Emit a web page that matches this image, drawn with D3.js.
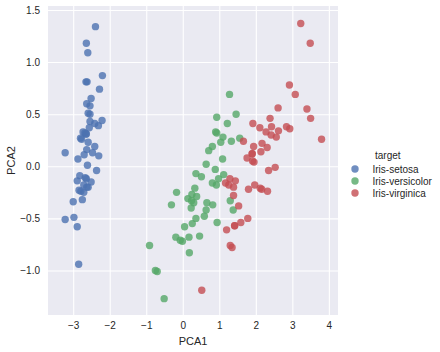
<!DOCTYPE html>
<html>
<head>
<meta charset="utf-8">
<script src="https://cdn.jsdelivr.net/npm/d3@7"></script>
<style>
  body { margin: 0; background: #fff; }
  svg { font-family: Arial, "Liberation Sans", sans-serif; }
</style>
</head>
<body>
<div class="chart"></div>
<script>
// ===== iris PCA scatter, seaborn darkgrid look =====

const species = ['Iris-setosa', 'Iris-versicolor', 'Iris-virginica']
const colors = ['#4C72B0', '#55A868', '#C44E52']

const xTicks = [-3, -2, -1, 0, 1, 2, 3, 4]
const yTicks = [-1.0, -0.5, 0.0, 0.5, 1.0, 1.5]

// [PCA1, PCA2] per flower
const setosa = [
  [-2.68, 0.32], [-2.71, -0.18], [-2.89, -0.14], [-2.75, -0.32], [-2.73, 0.33],
  [-2.28, 0.74], [-2.82, -0.09], [-2.63, 0.16], [-2.89, -0.58], [-2.67, -0.11],
  [-2.51, 0.65], [-2.61, 0.01], [-2.79, -0.24], [-3.22, -0.51], [-2.64, 1.18],
  [-2.39, 1.34], [-2.62, 0.81], [-2.65, 0.31], [-2.20, 0.87], [-2.59, 0.51],
  [-2.31, 0.39], [-2.54, 0.43], [-3.22, 0.13], [-2.30, 0.10], [-2.36, -0.04],
  [-2.51, -0.15], [-2.47, 0.13], [-2.56, 0.37], [-2.64, 0.31], [-2.63, -0.20],
  [-2.59, -0.20], [-2.41, 0.41], [-2.65, 0.81], [-2.60, 1.09], [-2.64, -0.12],
  [-2.87, 0.07], [-2.63, 0.60], [-2.80, 0.27], [-2.98, -0.49], [-2.59, 0.23],
  [-2.77, 0.26], [-2.85, -0.94], [-3.00, -0.34], [-2.41, 0.19], [-2.21, 0.44],
  [-2.71, -0.25], [-2.54, 0.50], [-2.84, -0.23], [-2.54, 0.58], [-2.70, 0.11]
]

const versicolor = [
  [1.28, 0.69], [0.93, 0.32], [1.46, 0.50], [0.18, -0.83], [1.09, 0.07],
  [0.64, -0.42], [1.10, 0.28], [-0.75, -1.00], [1.04, 0.23], [-0.01, -0.72],
  [-0.51, -1.27], [0.51, -0.10], [0.26, -0.55], [0.98, -0.12], [-0.17, -0.25],
  [0.93, 0.47], [0.66, -0.35], [0.24, -0.33], [0.94, -0.54], [0.05, -0.58],
  [1.12, -0.08], [0.36, -0.07], [1.30, -0.33], [0.92, -0.18], [0.71, 0.15],
  [0.90, 0.33], [1.33, 0.24], [1.56, 0.27], [0.81, -0.16], [-0.31, -0.37],
  [-0.07, -0.71], [-0.19, -0.68], [0.14, -0.31], [1.38, -0.42], [0.59, -0.48],
  [0.81, 0.19], [1.22, 0.41], [0.82, -0.37], [0.25, -0.27], [0.17, -0.68],
  [0.46, -0.67], [0.89, -0.03], [0.23, -0.40], [-0.70, -1.01], [0.36, -0.50],
  [0.33, -0.21], [0.38, -0.29], [0.64, 0.02], [-0.91, -0.76], [0.30, -0.35]
]

const virginica = [
  [2.53, -0.01], [1.42, -0.57], [2.62, 0.34], [1.97, -0.18], [2.35, -0.04],
  [3.40, 0.55], [0.52, -1.19], [2.93, 0.36], [2.32, -0.24], [2.92, 0.78],
  [1.66, 0.24], [1.80, -0.22], [2.17, 0.22], [1.35, -0.78], [1.59, -0.54],
  [1.90, 0.12], [1.95, 0.04], [3.49, 1.18], [3.80, 0.26], [1.30, -0.76],
  [2.43, 0.38], [1.20, -0.61], [3.50, 0.46], [1.39, -0.20], [2.28, 0.33],
  [2.61, 0.56], [1.26, -0.18], [1.29, -0.12], [2.12, -0.21], [2.39, 0.46],
  [2.84, 0.38], [3.23, 1.37], [2.16, -0.22], [1.44, -0.14], [1.78, -0.50],
  [3.08, 0.69], [2.14, 0.14], [1.91, 0.05], [1.17, -0.16], [2.11, 0.37],
  [2.31, 0.18], [1.92, 0.41], [1.42, -0.57], [2.56, 0.28], [2.42, 0.30],
  [1.94, 0.19], [1.53, -0.38], [1.76, 0.08], [1.90, 0.12], [1.39, -0.28]
]

const groups = [setosa, versicolor, virginica]

const margin = { top: 6, right: 102, bottom: 37, left: 48 }
const width = 440 - margin.left - margin.right
const height = 352 - margin.top - margin.bottom

const svg = d3.select('.chart')
  .append('svg')
    .attr('width', 440)
    .attr('height', 352)

const container = svg.append('g')
  .attr('transform', `translate(${margin.left}, ${margin.top})`)

container.append('rect')
  .attr('width', width)
  .attr('height', height)
  .style('fill', '#EAEAF2')

const xScale = d3.scaleLinear()
  .domain([-3.69, 4.25])
  .range([0, width])

const yScale = d3.scaleLinear()
  .domain([-1.427, 1.538])
  .range([height, 0])

// gridlines come from the tick lines, labels sit outside
const xAxis = d3.axisBottom(xScale)
  .tickValues(xTicks)
  .tickFormat(d3.format('d'))
  .tickSize(-height)
  .tickPadding(7)

const yAxis = d3.axisLeft(yScale)
  .tickValues(yTicks)
  .tickFormat(d3.format('.1f'))
  .tickSize(-width)
  .tickPadding(8)

const styleAxis = g => {
  g.select('.domain').remove()
  g.selectAll('line').style('stroke', '#fff').style('stroke-width', 1.1)
  g.selectAll('text').style('fill', '#262626').style('font-size', '10px')
    .style('font-family', 'Arial, "Liberation Sans", sans-serif')
}

container.append('g')
  .attr('transform', `translate(0, ${height})`)
  .call(xAxis)
  .call(styleAxis)

container.append('g')
  .call(yAxis)
  .call(styleAxis)

groups.forEach((pts, i) => {
  container.append('g')
    .selectAll('circle')
    .data(pts)
    .join('circle')
      .attr('cx', d => xScale(d[0]))
      .attr('cy', d => yScale(d[1]))
      .attr('r', 3.7)
      .style('fill', colors[i])
      .style('fill-opacity', 0.8)
})

container.append('text')
  .attr('x', width / 2)
  .attr('y', height + 30)
  .attr('text-anchor', 'middle')
  .style('font-size', '11px')
  .style('fill', '#262626')
  .text('PCA1')

container.append('text')
  .attr('transform', `translate(${-33}, ${height / 2}) rotate(-90)`)
  .attr('text-anchor', 'middle')
  .style('font-size', '11px')
  .style('fill', '#262626')
  .text('PCA2')

// legend
const legend = svg.append('g')
  .attr('transform', 'translate(355, 155)')

legend.append('text')
  .attr('x', 20)
  .attr('y', 0)
  .attr('dy', '0.35em')
  .style('font-size', '10px')
  .style('fill', '#262626')
  .text('target')

species.forEach((s, i) => {
  const row = legend.append('g')
    .attr('transform', `translate(0, ${14 + i * 12})`)
  row.append('circle')
    .attr('r', 3.7)
    .style('fill', colors[i])
    .style('fill-opacity', 0.8)
  row.append('text')
    .attr('x', 17.5)
    .attr('dy', '0.35em')
    .style('font-size', '10px')
    .style('fill', '#262626')
    .text(s)
})
</script>
</body>
</html>
